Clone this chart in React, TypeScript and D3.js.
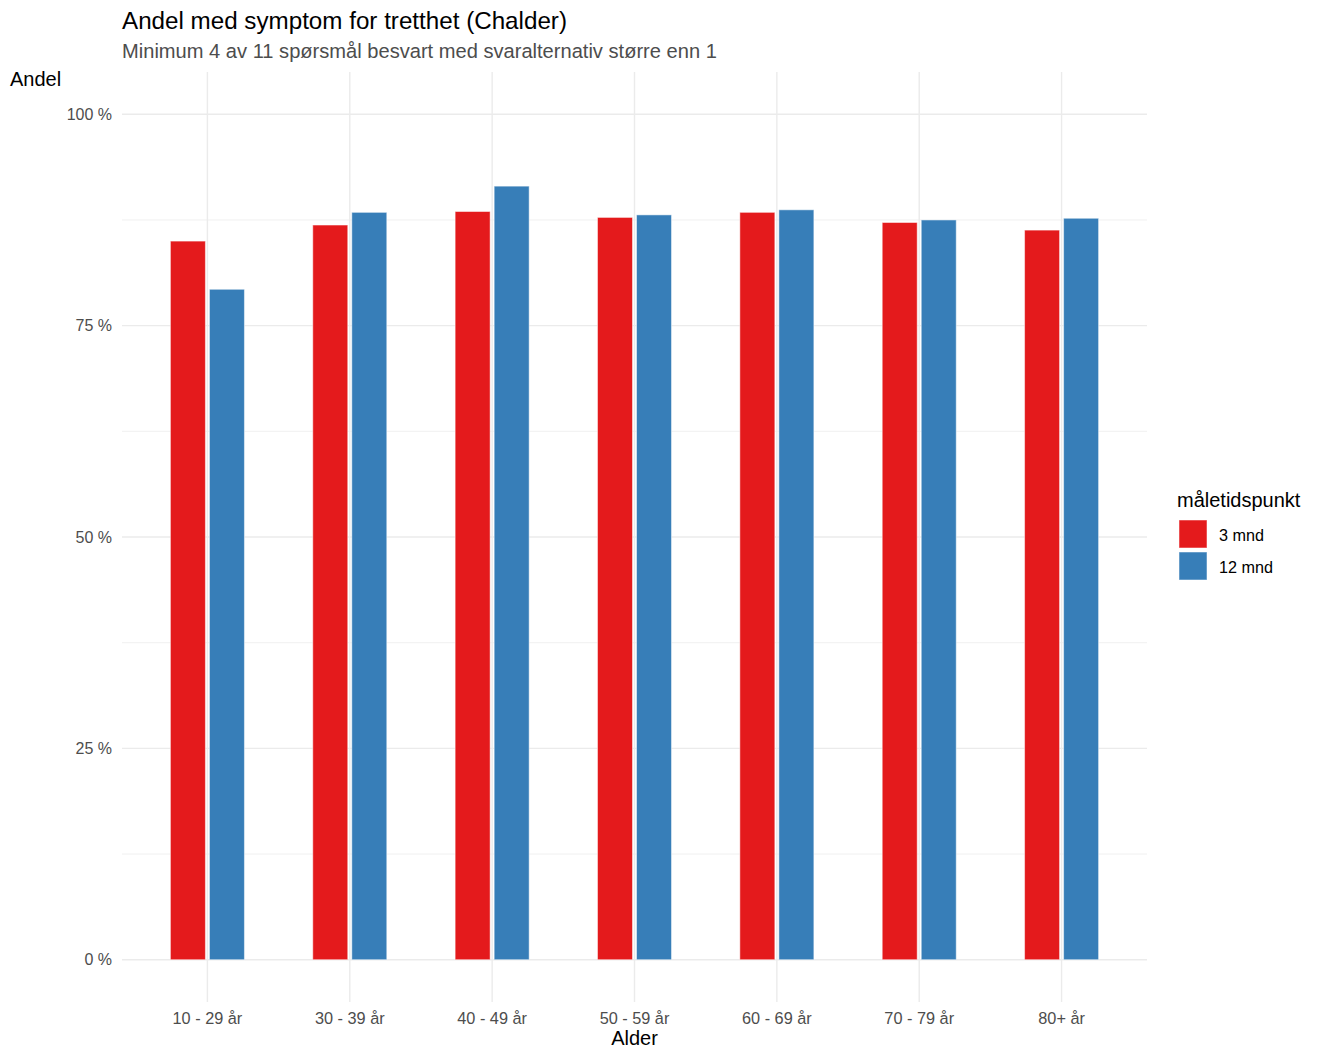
import React from "react";
import * as d3 from "d3";

const categories = ["10 - 29 år", "30 - 39 år", "40 - 49 år", "50 - 59 år", "60 - 69 år", "70 - 79 år", "80+ år"];
const seriesNames = ["3 mnd", "12 mnd"];
const values3mnd = [85.0, 86.9, 88.5, 87.8, 88.4, 87.2, 86.3];
const values12mnd = [79.3, 88.4, 91.5, 88.1, 88.7, 87.5, 87.7];
const colors = ["#E41A1C", "#377EB8"];
const majorTicks = [0, 25, 50, 75, 100];
const minorTicks = [12.5, 37.5, 62.5, 87.5];

const W = 1321, H = 1050;
const panel = { left: 122, right: 1147, top: 72, bottom: 1002 };
const FONT = "'Liberation Sans', Arial, sans-serif";

export default function App() {
  const x = d3.scalePoint<string>().domain(categories).range([panel.left, panel.right]).padding(0.6);
  const step = x.step();
  const xInner = d3.scaleBand<string>().domain(seriesNames).range([-0.26 * step, 0.26 * step]).paddingInner(0.103);
  const y = d3.scaleLinear().domain([-5, 105]).range([panel.bottom, panel.top]);
  const series = [values3mnd, values12mnd];

  return (
    <svg width={W} height={H} style={{ display: "block", position: "absolute", left: 0, top: 0 }} fontFamily={FONT}>
      <rect width={W} height={H} fill="#fff" />
      {minorTicks.map((t) => (
        <line key={"mn" + t} x1={panel.left} x2={panel.right} y1={y(t)} y2={y(t)} stroke="#EBEBEB" strokeWidth={0.7} />
      ))}
      {majorTicks.map((t) => (
        <line key={"mj" + t} x1={panel.left} x2={panel.right} y1={y(t)} y2={y(t)} stroke="#EBEBEB" strokeWidth={1.4} />
      ))}
      {categories.map((c) => (
        <line key={"v" + c} x1={x(c)} x2={x(c)} y1={panel.top} y2={panel.bottom} stroke="#EBEBEB" strokeWidth={1.4} />
      ))}
      {series.map((vals, si) =>
        vals.map((v, i) => (
          <rect
            key={si + "-" + i}
            x={(x(categories[i]) as number) + (xInner(seriesNames[si]) as number)}
            width={xInner.bandwidth()}
            y={y(v)}
            height={y(0) - y(v)}
            fill={colors[si]}
            stroke="#fff"
            strokeOpacity={0.5}
            strokeWidth={1}
          />
        ))
      )}
      {majorTicks.map((t) => (
        <text key={"yl" + t} x={112} y={y(t)} dy="0.35em" textAnchor="end" fontSize={16} fill="#4D4D4D">
          {t + " %"}
        </text>
      ))}
      {categories.map((c) => (
        <text key={"xl" + c} x={x(c)} y={1024} textAnchor="middle" fontSize={16.3} fill="#4D4D4D">
          {c}
        </text>
      ))}
      <text x={122} y={29} fontSize={24.2} fill="#000">Andel med symptom for tretthet (Chalder)</text>
      <text x={122} y={58} fontSize={20.1} fill="#4D4D4D">Minimum 4 av 11 spørsmål besvart med svaralternativ større enn 1</text>
      <text x={10} y={86} fontSize={20} fill="#000">Andel</text>
      <text x={(panel.left + panel.right) / 2} y={1045} textAnchor="middle" fontSize={20} fill="#000">Alder</text>
      <text x={1177} y={507} fontSize={20} fill="#000">måletidspunkt</text>
      {seriesNames.map((s, i) => (
        <g key={"lg" + s} transform={`translate(1179, ${520 + i * 32})`}>
          <rect x={0} y={0} width={28} height={28} fill={colors[i]} stroke="#fff" strokeOpacity={0.5} strokeWidth={1} />
          <text x={40} y={15} dy="0.35em" fontSize={16.2} fill="#000">{s}</text>
        </g>
      ))}
    </svg>
  );
}
